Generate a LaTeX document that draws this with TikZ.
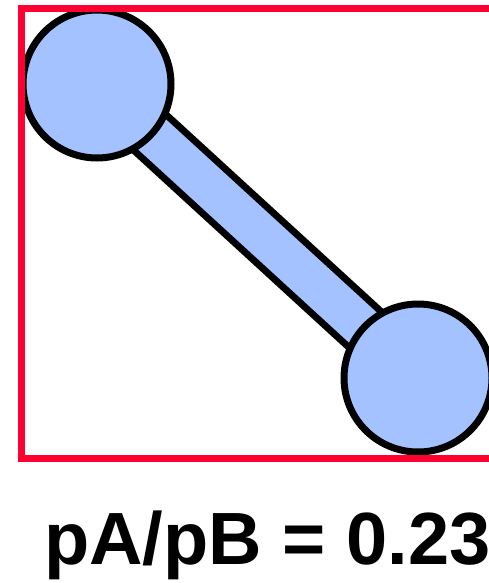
\documentclass[tikz,border=0pt]{standalone}
\usepackage{fontspec}
\setmainfont{Liberation Sans}
\definecolor{ballblue}{HTML}{A3C2FF}
\definecolor{boxred}{HTML}{FF0033}
\begin{document}
\begin{tikzpicture}[x=1pt,y=-1pt,
  ball/.style={circle,draw=black,fill=ballblue,line width=7pt,minimum size=148pt,inner sep=0pt},
  barline/.style={line width=55pt,black},
  barfill/.style={line width=41pt,ballblue},
  frame/.style={draw=boxred,line width=7pt}]
\path[clip] (0,0) rectangle (489,583);
\coordinate (ca) at (97,84);
\coordinate (cb) at (418,378);
\draw[barline] (ca) -- (cb);
\draw[barfill] (ca) -- (cb);
\node[ball] (a) at (ca) {};
\node[ball] (b) at (cb) {};
\draw[frame] (520,9) -- (21,9) -- (21,458) -- (520,458);
\node[anchor=base west,inner sep=0pt,font=\fontsize{74}{86}\selectfont\bfseries] (t) at (44,564) {pA/pB = 0.23};
\end{tikzpicture}
\end{document}
